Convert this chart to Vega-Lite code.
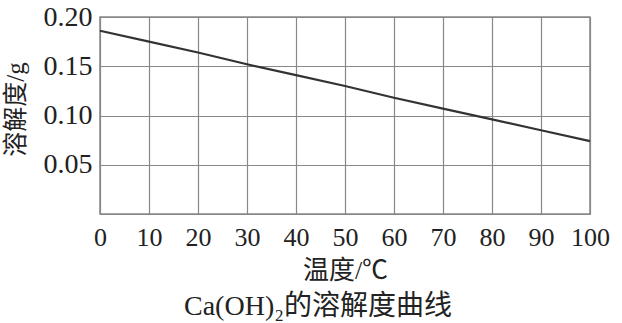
{
  "$schema": "https://vega.github.io/schema/vega-lite/v6.json",
  "width": 490,
  "height": 197,
  "autosize": {"type": "none"},
  "padding": {"left": 100, "top": 17, "right": 32, "bottom": 109},
  "background": "white",
  "data": {
    "values": [
      {"t": 0, "s": 0.186},
      {"t": 10, "s": 0.175},
      {"t": 20, "s": 0.164},
      {"t": 30, "s": 0.152},
      {"t": 40, "s": 0.141},
      {"t": 50, "s": 0.130},
      {"t": 60, "s": 0.118},
      {"t": 70, "s": 0.107},
      {"t": 80, "s": 0.096},
      {"t": 90, "s": 0.085},
      {"t": 100, "s": 0.074}
    ]
  },
  "title": {
    "text": "Ca(OH)₂的溶解度曲线",
    "orient": "bottom",
    "anchor": "middle",
    "dx": -27,
    "offset": 10,
    "font": "Liberation Serif, Noto Sans CJK SC",
    "fontSize": 28,
    "fontWeight": "normal",
    "color": "#222"
  },
  "mark": {"type": "line", "color": "#333", "strokeWidth": 2.2},
  "encoding": {
    "x": {
      "field": "t",
      "type": "quantitative",
      "scale": {"domain": [0, 100], "nice": false},
      "axis": {
        "values": [0, 10, 20, 30, 40, 50, 60, 70, 80, 90, 100],
        "title": "温度/℃",
        "titleFont": "Liberation Serif, Noto Sans CJK SC",
        "titleFontSize": 26,
        "titleFontWeight": "normal",
        "titleColor": "#222",
        "titlePadding": 7,
        "labelFont": "Liberation Serif",
        "labelFontSize": 26,
        "labelColor": "#222",
        "labelPadding": 10,
        "labelFlush": false,
        "labelOverlap": false,
        "ticks": false,
        "domain": false,
        "grid": true,
        "gridColor": "#888",
        "gridWidth": 1.2,
        "gridOpacity": 1
      }
    },
    "y": {
      "field": "s",
      "type": "quantitative",
      "scale": {"domain": [0, 0.2], "nice": false},
      "axis": {
        "values": [0, 0.05, 0.1, 0.15, 0.2],
        "labelExpr": "datum.value == 0 ? '' : format(datum.value, '.2f')",
        "title": "溶解度/g",
        "titleFont": "Liberation Serif, Noto Sans CJK SC",
        "titleFontSize": 25,
        "titleFontWeight": "normal",
        "titleColor": "#222",
        "titleX": -72,
        "titleY": 92,
        "labelFont": "Liberation Serif",
        "labelFontSize": 28,
        "labelColor": "#222",
        "labelPadding": 8,
        "labelFlush": false,
        "labelOverlap": false,
        "ticks": false,
        "domain": false,
        "grid": true,
        "gridColor": "#888",
        "gridWidth": 1.2,
        "gridOpacity": 1
      }
    }
  },
  "config": {
    "view": {"stroke": "#888", "strokeWidth": 1.5}
  }
}
